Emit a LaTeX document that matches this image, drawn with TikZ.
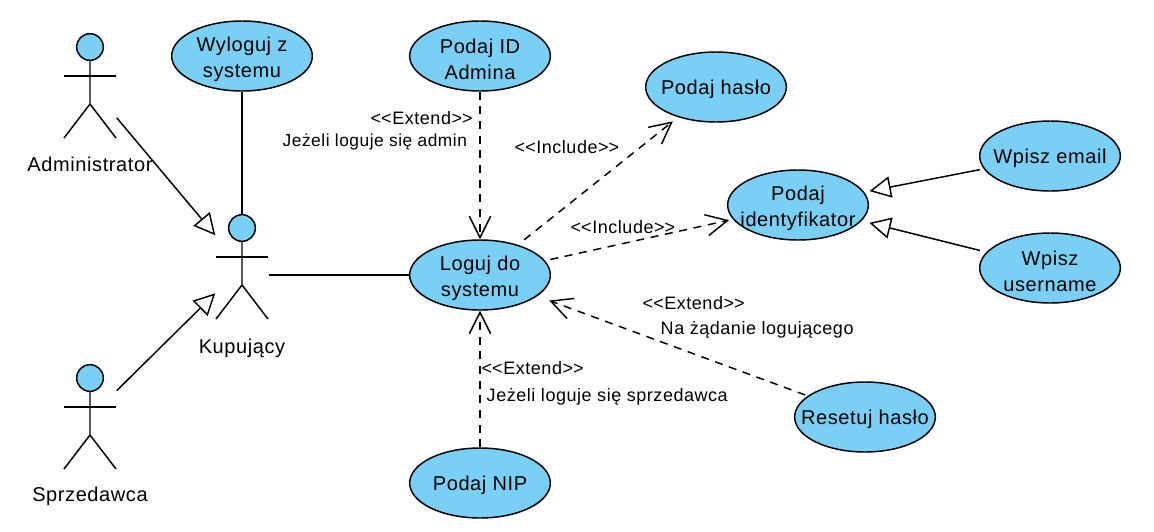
\documentclass[tikz,border=0pt]{standalone}
\usepackage{fontspec}
\setmainfont[LetterSpace=3]{Liberation Sans}
\usetikzlibrary{arrows.meta,shapes.geometric}
\definecolor{usecolor}{RGB}{122,207,245}
\newcommand{\stereo}[1]{<\kern0pt<#1>\kern0pt>}
\tikzset{
    usecase/.style={draw, ellipse, fill=usecolor, line width=1.1pt, inner xsep=-16pt, inner ysep=-6pt, minimum width=105.5pt, minimum height=52.5pt, align=center, font=\fontsize{15}{20}\selectfont, execute at begin node={\rule{0pt}{15pt}}},
    twoline/.style={usecase, execute at begin node={\rule{0pt}{36pt}}},
    actorbox/.style={inner sep=0pt, minimum width=39pt, minimum height=78pt},
    actorhead/.style={draw, circle, fill=usecolor, line width=1.1pt, inner sep=0pt, minimum size=20pt},
    actortext/.style={inner sep=0pt, font=\fontsize{15}{20}\selectfont},
    note/.style={inner sep=0pt, anchor=west, font=\fontsize{13.5}{17}\selectfont},
    gen/.style={-{Triangle[open,length=16pt,width=16pt,line width=1.1pt]}, line width=1.1pt},
    dep/.style={->, >={Straight Barb[length=16pt,width=16pt,line width=1.1pt]}, line width=1.1pt, dash pattern=on 6pt off 5pt}
}
\begin{document}
\begin{tikzpicture}[x=0.75pt, y=-0.75pt, line width=1.1pt]
\useasboundingbox (0,0) rectangle (1154,532);

\foreach \name/\x/\y/\txt/\ty in {admin/90/34/Administrator/164, kupujacy/242/215/Kupujący/348, sprzedawca/90/365/Sprzedawca/496}
{
    \node[actorbox] (\name) at (\x,\y+52) {};
    \node[actorhead] (\name-head) at (\x,\y+13) {};
    \draw (\name-head) -- (\x,\y+70) -- (\x-26,\y+104);
    \draw (\x,\y+70) -- (\x+26,\y+104);
    \draw (\x-26,\y+42) -- (\x+26,\y+42);
    \node[actortext] (\name-text) at (\x,\ty) {\txt};
}

\node[twoline] (wyloguj) at (242,56) {Wyloguj z\\systemu};
\node[twoline] (adminid) at (480,56) {Podaj ID\\Admina};
\node[usecase] (haslo) at (716,87) {Podaj hasło};
\node[twoline] (identyfikator) at (798,205) {Podaj\\identyfikator};
\node[usecase] (email) at (1050,156) {Wpisz email};
\node[twoline] (username) at (1050,268) {Wpisz\\username};
\node[twoline] (loguj) at (480,275) {Loguj do\\systemu};
\node[usecase] (nip) at (480,483) {Podaj NIP};
\node[usecase] (resetuj) at (865,417) {Resetuj hasło};

\draw[gen] (admin) -- (kupujacy);
\draw[gen] (sprzedawca) -- (kupujacy);
\draw (wyloguj) -- (kupujacy-head);
\draw (kupujacy.east |- loguj.west) -- (loguj.west);
\draw[gen, shorten >=4pt, shorten <=3pt] (email) -- (identyfikator);
\draw[gen, shorten >=6pt, shorten <=5pt] (username) -- (identyfikator);

\draw[dep] (adminid) -- (loguj);
\draw[dep, shorten <=6pt, shorten >=5pt] (loguj) -- (haslo);
\draw[dep, shorten <=4pt, shorten >=3pt] (loguj) -- (identyfikator);
\draw[dep] (nip) -- (loguj);
\draw[dep, shorten <=2pt, shorten >=9.5pt] (resetuj) -- (loguj);

\node[note] (extendadmin) at (370,118) {\stereo{Extend}};
\node[note, font=\fontsize{13}{17}\selectfont] (warunekadmin) at (282,142) {Jeżeli loguje się admin};
\node[note] (includehaslo) at (514,147) {\stereo{Include}};
\node[note] (includeid) at (570,227) {\stereo{Include}};
\node[note] (extendreset) at (642,303) {\stereo{Extend}};
\node[note] (warunekreset) at (660,330) {Na żądanie logującego};
\node[note] (extendnip) at (481,368) {\stereo{Extend}};
\node[note] (waruneknip) at (486,397) {Jeżeli loguje się sprzedawca};
\end{tikzpicture}
\end{document}
